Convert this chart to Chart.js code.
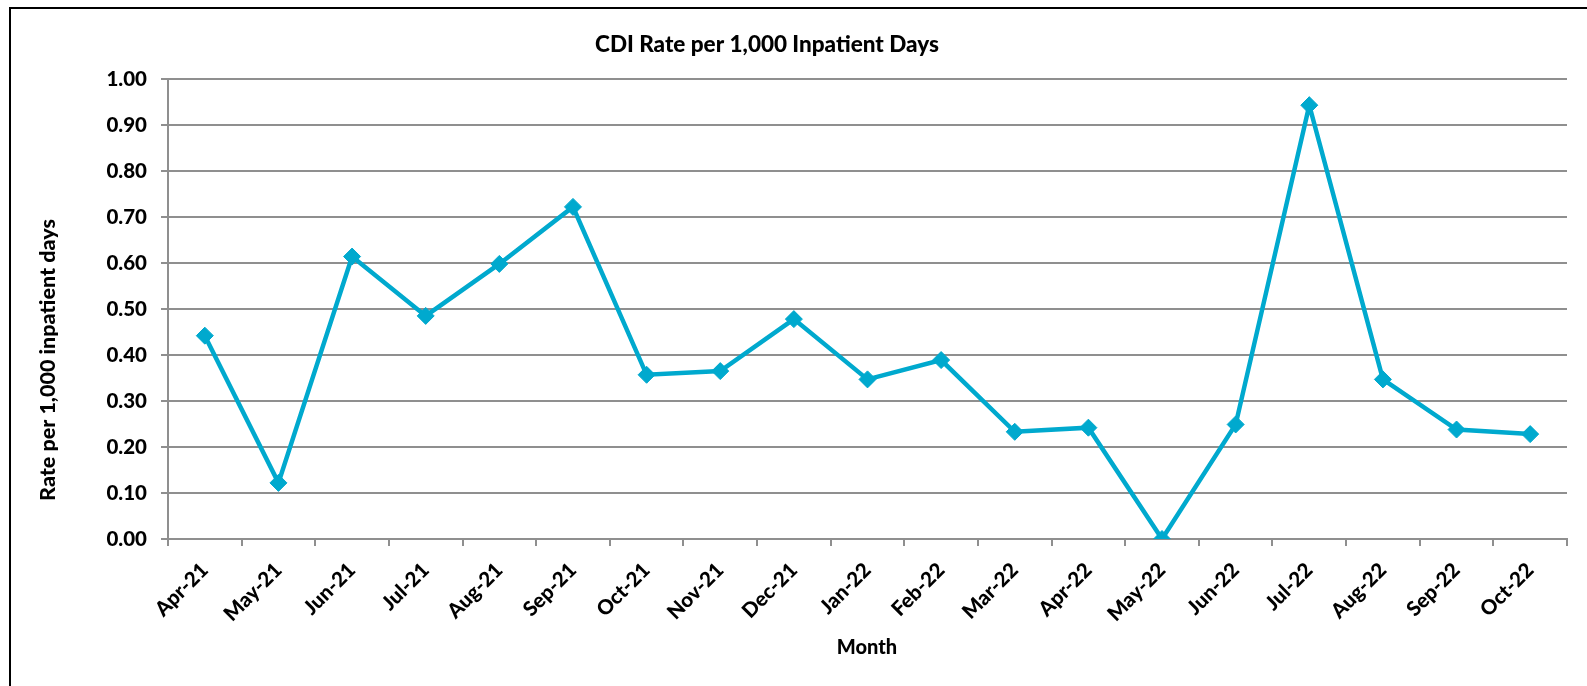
<!DOCTYPE html>
<html>
<head>
<meta charset="utf-8">
<script src="https://cdn.jsdelivr.net/npm/chart.js@4"></script>
<style>
  html, body { margin: 0; padding: 0; background: #fff; }
  #wrap { position: relative; width: 1587px; height: 686px; }
  canvas { display: block; }
</style>
</head>
<body>
<div id="wrap"><canvas id="c" width="1587" height="686"></canvas></div>
<script>
const categories = ["Apr-21","May-21","Jun-21","Jul-21","Aug-21","Sep-21","Oct-21","Nov-21","Dec-21","Jan-22","Feb-22","Mar-22","Apr-22","May-22","Jun-22","Jul-22","Aug-22","Sep-22","Oct-22"];
const cdiRate = [0.442, 0.122, 0.614, 0.485, 0.598, 0.722, 0.357, 0.365, 0.478, 0.347, 0.389, 0.233, 0.242, 0.000, 0.249, 0.943, 0.347, 0.238, 0.228];
const titleText = "CDI Rate per 1,000 Inpatient Days";
const yTitleText = "Rate per 1,000 inpatient days";
const xTitleText = "Month";

const FONT = "Lato, 'Open Sans', sans-serif";
const lineColor = "#00A9CE";
const gridColor = "#8f8f8f";

const decorPlugin = {
  id: 'decor',
  beforeDraw(chart) {
    const ctx = chart.ctx;
    ctx.save();
    ctx.fillStyle = '#fff';
    ctx.fillRect(0, 0, chart.width, chart.height);
    ctx.strokeStyle = '#000';
    ctx.lineWidth = 2;
    ctx.beginPath();
    ctx.moveTo(10, 700);
    ctx.lineTo(10, 8);
    ctx.lineTo(1600, 8);
    ctx.stroke();
    ctx.restore();
  },
  afterDraw(chart) {
    const ctx = chart.ctx;
    ctx.save();
    ctx.fillStyle = '#000';
    ctx.textAlign = 'center';
    ctx.textBaseline = 'middle';
    ctx.font = "900 22.5px " + FONT;
    ctx.fillText(titleText, 767, 45);
    ctx.font = "900 20px " + FONT;
    ctx.fillText(xTitleText, 867, 648);
    ctx.translate(48, 360);
    ctx.rotate(-Math.PI / 2);
    ctx.font = "900 21.5px " + FONT;
    ctx.fillText(yTitleText, 0, 0);
    ctx.restore();
  }
};

new Chart(document.getElementById('c'), {
  type: 'line',
  data: {
    labels: categories,
    datasets: [{
      label: 'CDI Rate',
      data: cdiRate,
      borderColor: lineColor,
      backgroundColor: lineColor,
      borderWidth: 4.5,
      pointStyle: 'rectRot',
      pointRadius: 8.5,
      pointHoverRadius: 8.5,
      pointBorderWidth: 1,
      pointBackgroundColor: lineColor,
      pointBorderColor: lineColor,
      tension: 0,
      fill: false
    }]
  },
  options: {
    responsive: false,
    animation: false,
    devicePixelRatio: 1,
    layout: { padding: { top: 79, left: 0, right: 20, bottom: 0 } },
    plugins: {
      legend: { display: false },
      title: { display: false },
      tooltip: { enabled: false }
    },
    scales: {
      x: {
        type: 'category',
        offset: true,
        grid: {
          offset: true,
          drawOnChartArea: false,
          drawTicks: true,
          tickLength: 7,
          color: gridColor,
          lineWidth: 2
        },
        border: { display: true, color: gridColor, width: 2 },
        ticks: {
          color: '#000',
          font: { family: FONT, size: 20.5, weight: '900' },
          minRotation: 45,
          maxRotation: 45,
          padding: 12,
          autoSkip: false
        },
        afterFit(scale) { scale.height = 686 - 539; }
      },
      y: {
        min: 0,
        max: 1,
        ticks: {
          stepSize: 0.1,
          color: '#000',
          font: { family: FONT, size: 20.5, weight: '900' },
          padding: 14,
          callback: (v) => Number(v).toFixed(2)
        },
        grid: {
          color: gridColor,
          lineWidth: 2,
          drawTicks: true,
          tickLength: 7
        },
        border: { display: true, color: gridColor, width: 2 },
        afterFit(scale) { scale.width = 168; }
      }
    }
  },
  plugins: [decorPlugin]
});
</script>
</body>
</html>
